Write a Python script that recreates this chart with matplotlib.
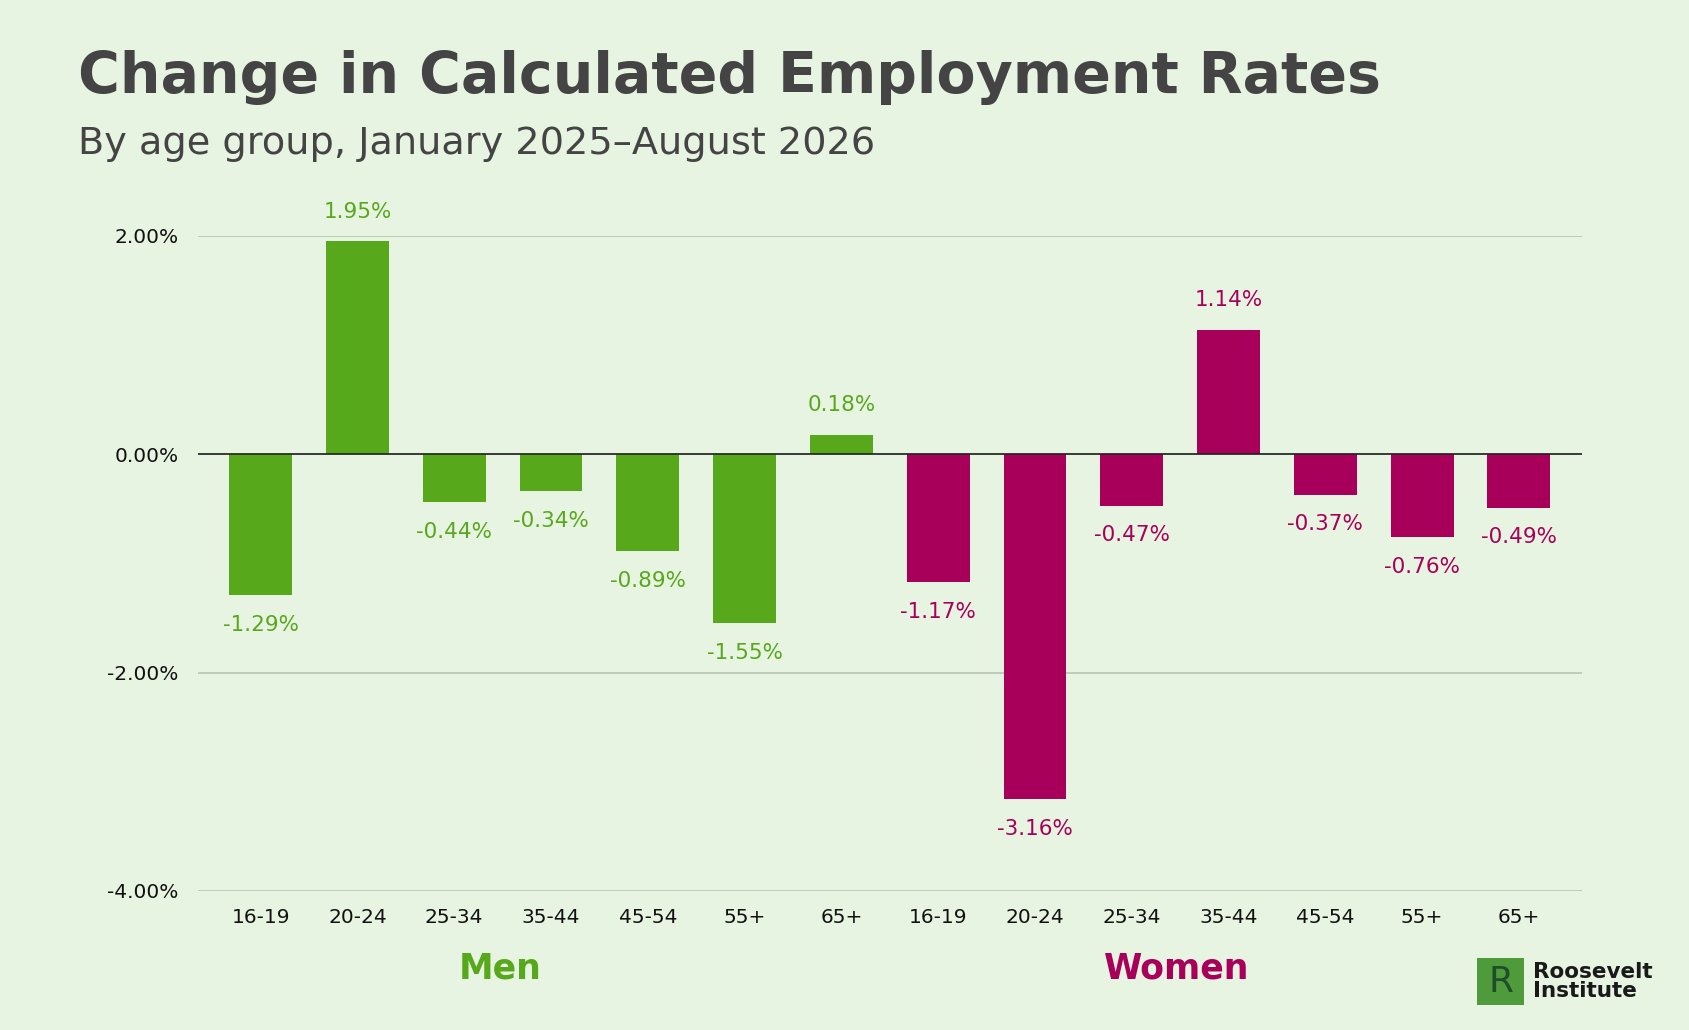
import matplotlib.pyplot as plt
from matplotlib.patches import Rectangle

groups = ["16-19", "20-24", "25-34", "35-44", "45-54", "55+", "65+"]
men = [-1.29, 1.95, -0.44, -0.34, -0.89, -1.55, 0.18]
women = [-1.17, -3.16, -0.47, 1.14, -0.37, -0.76, -0.49]

GREEN = "#58a81c"
MAGENTA = "#a8005a"
BG = "#e8f4e2"
DARK = "#444444"

plt.rcParams["font.family"] = ["DejaVu Sans"]

fig = plt.figure(figsize=(16.9, 10.3), dpi=100, facecolor=BG)
ax = fig.add_axes([0.117, 0.135, 0.819, 0.636], facecolor=BG)

labels = groups + groups
values = men + women
colors = [GREEN] * len(men) + [MAGENTA] * len(women)
x = list(range(len(values)))
ax.bar(x, values, width=0.65, color=colors, zorder=3)

for xi, v, c in zip(x, values, colors):
    off = 0.18 if v >= 0 else -0.18
    ax.text(xi, v + off, f"{v:.2f}%", ha="center", va="bottom" if v >= 0 else "top",
            color=c, fontsize=15.5)

ax.set_xlim(-0.65, len(values) - 0.35)
ax.set_ylim(-4, 2)
ax.set_yticks([-4, -2, 0, 2])
ax.set_yticklabels(["-4.00%", "-2.00%", "0.00%", "2.00%"])
ax.grid(axis="y", color="#b8c4b4", linewidth=1.2, zorder=0)
ax.axhline(0, color="#222222", linewidth=1.2, zorder=4)
ax.set_xticks(x)
ax.set_xticklabels(labels)
ax.tick_params(length=0, labelsize=14.5, colors="#111111", pad=12)
ax.tick_params(axis="y", pad=14)
for s in ax.spines.values():
    s.set_visible(False)

fig.text(0.046, 0.925, "Change in Calculated Employment Rates", fontsize=41,
         fontweight="bold", color=DARK, va="center")
fig.text(0.046, 0.86, "By age group, January 2025\u2013August 2026", fontsize=27.5,
         color=DARK, va="center")
fig.text(0.296, 0.06, "Men", fontsize=25, fontweight="bold", color=GREEN, ha="center", va="center")
fig.text(0.696, 0.06, "Women", fontsize=25, fontweight="bold", color=MAGENTA, ha="center", va="center")

fig.patches.append(Rectangle((0.874, 0.024), 0.028, 0.046, transform=fig.transFigure,
                             facecolor="#4f9a3a", edgecolor="none"))
fig.text(0.888, 0.047, "R", fontsize=26, color="#1f4e2a", ha="center", va="center")
fig.text(0.907, 0.047, "Roosevelt\nInstitute", fontsize=15.5, fontweight="bold",
         color="#1a1a1a", va="center", linespacing=0.95)

fig.savefig("out.png", dpi=100, facecolor=BG)
